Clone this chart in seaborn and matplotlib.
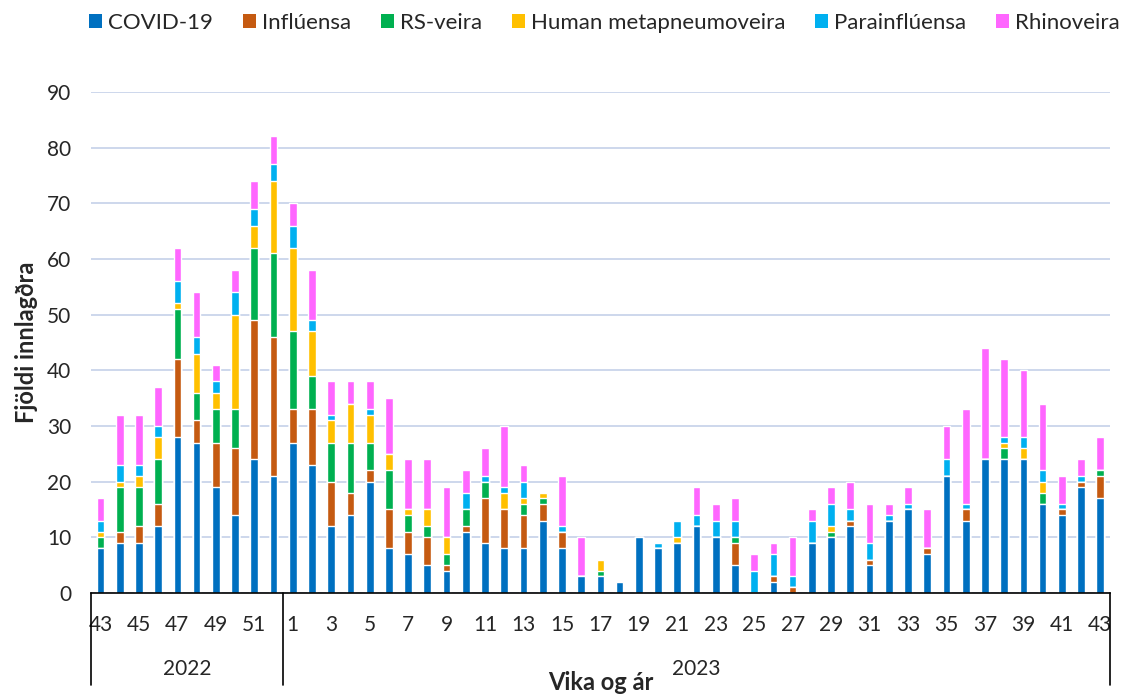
import numpy as np
import pandas as pd
import matplotlib
matplotlib.use("Agg")
import matplotlib.pyplot as plt
import matplotlib.transforms as mtransforms
from matplotlib.patches import Patch
import seaborn as sns

YEARS = ["2022"] * 10 + ["2023"] * 43
WEEKS = [43, 44, 45, 46, 47, 48, 49, 50, 51, 52,
         1, 2, 3, 4, 5, 6, 7, 8, 9, 10, 11, 12, 13, 14, 15, 16, 17, 18, 19, 20,
         21, 22, 23, 24, 25, 26, 27, 28, 29, 30, 31, 32, 33, 34, 35, 36, 37, 38, 39, 40,
         41, 42, 43]

COVID = [8, 9, 9, 12, 28, 27, 19, 14, 24, 21,
         27, 23, 12, 14, 20, 8, 7, 5, 4, 11, 9, 8, 8, 13, 8, 3, 3, 2, 10, 8,
         9, 12, 10, 5, 0, 2, 0, 9, 10, 12, 5, 13, 15, 7, 21, 13, 24, 24, 24, 16,
         14, 19, 17]
INFLUENSA = [0, 2, 3, 4, 14, 4, 8, 12, 25, 25,
             6, 10, 8, 4, 2, 7, 4, 5, 1, 1, 8, 7, 6, 3, 3, 0, 0, 0, 0, 0,
             0, 0, 0, 4, 0, 1, 1, 0, 0, 1, 1, 0, 0, 1, 0, 2, 0, 0, 0, 0,
             1, 1, 4]
RSV = [2, 8, 7, 8, 9, 5, 6, 7, 13, 15,
       14, 6, 7, 9, 5, 7, 3, 2, 2, 3, 3, 0, 2, 1, 0, 0, 1, 0, 0, 0,
       0, 0, 0, 1, 0, 0, 0, 0, 1, 0, 0, 0, 0, 0, 0, 0, 0, 2, 0, 2,
       0, 0, 1]
HMPV = [1, 1, 2, 4, 1, 7, 3, 17, 4, 13,
        15, 8, 4, 7, 5, 3, 1, 3, 3, 0, 0, 3, 1, 1, 0, 0, 2, 0, 0, 0,
        1, 0, 0, 0, 0, 0, 0, 0, 1, 0, 0, 0, 0, 0, 0, 0, 0, 1, 2, 2,
        0, 0, 0]
PARAINFLUENSA = [2, 3, 2, 2, 4, 3, 2, 4, 3, 3,
                 4, 2, 1, 0, 1, 0, 0, 0, 0, 3, 1, 1, 3, 0, 1, 0, 0, 0, 0, 1,
                 3, 2, 3, 3, 4, 4, 2, 4, 4, 2, 3, 1, 1, 0, 3, 1, 0, 1, 2, 2,
                 1, 1, 0]
RHINO = [4, 9, 9, 7, 6, 8, 3, 4, 5, 5,
         4, 9, 6, 4, 5, 10, 9, 9, 9, 4, 5, 11, 3, 0, 9, 7, 0, 0, 0, 0,
         0, 5, 3, 4, 3, 2, 7, 2, 3, 5, 7, 2, 3, 7, 6, 17, 20, 14, 12, 12,
         5, 3, 6]

SERIES = ["COVID-19", "Inflúensa", "RS-veira", "Human metapneumoveira", "Parainflúensa", "Rhinoveira"]
COLORS = ["#0070C0", "#C55A11", "#00B050", "#FFC000", "#00B0F0", "#FF66FF"]

sns.set_theme(style="white")
plt.rcParams.update({"font.family": ["Lato", "DejaVu Sans"], "font.size": 15})

df = pd.DataFrame(
    {
        "key": [f"{y}-{w}" for y, w in zip(YEARS, WEEKS)],
        "COVID-19": COVID,
        "Inflúensa": INFLUENSA,
        "RS-veira": RSV,
        "Human metapneumoveira": HMPV,
        "Parainflúensa": PARAINFLUENSA,
        "Rhinoveira": RHINO,
    }
)
cum = df[SERIES].cumsum(axis=1)

fig = plt.figure(figsize=(11.36, 6.96), dpi=100)
ax = fig.add_axes([0.080, 0.148, 0.897, 0.720])

# stack by drawing cumulative totals from the top layer down
for name, color in reversed(list(zip(SERIES, COLORS))):
    sns.barplot(x=df["key"], y=cum[name], color=color, saturation=1, width=0.4,
                errorbar=None, ax=ax, zorder=3)

ax.set_ylim(0, 90)
ax.set_xlim(-0.5, len(WEEKS) - 0.5)
ax.set_yticks(range(0, 91, 10))
ax.yaxis.grid(True, color="#c9d4ea", linewidth=1.3, zorder=0)
ax.set_axisbelow(True)
for side in ["left", "right", "top"]:
    ax.spines[side].set_visible(False)
ax.spines["bottom"].set_color("black")
ax.spines["bottom"].set_linewidth(1.2)
ax.spines["bottom"].set_zorder(5)

ticks = list(range(0, len(WEEKS), 2))
ax.set_xticks(ticks)
ax.set_xticklabels([str(WEEKS[i]) for i in ticks])
ax.tick_params(axis="x", length=0, pad=16, labelsize=15)
ax.tick_params(axis="y", length=0, pad=14, labelsize=15)

trans = mtransforms.blended_transform_factory(ax.transData, ax.transAxes)
for xpos in [-0.5, 9.5, len(WEEKS) - 0.5]:
    ax.plot([xpos, xpos], [0, -0.183], color="black", linewidth=1.2,
            transform=trans, clip_on=False)
ax.text(4.5, -0.152, "2022", transform=trans, ha="center", va="center", fontsize=15)
ax.text(31, -0.152, "2023", transform=trans, ha="center", va="center", fontsize=15)

ax.set_xlabel("Vika og ár", fontsize=17, fontweight="bold")
ax.xaxis.set_label_coords(0.5, -0.155)
ax.set_ylabel("Fjöldi innlagðra", fontsize=17, fontweight="bold")
ax.yaxis.set_label_coords(-0.052, 0.5)

handles = [Patch(facecolor=c, edgecolor="none") for c in COLORS]
fig.legend(handles, SERIES, loc="upper center", bbox_to_anchor=(0.532, 1.01), ncol=6,
           frameon=False, fontsize=16, handlelength=0.6, handleheight=0.6,
           handletextpad=0.25, columnspacing=1.35)

fig.savefig("out.png", dpi=100)
